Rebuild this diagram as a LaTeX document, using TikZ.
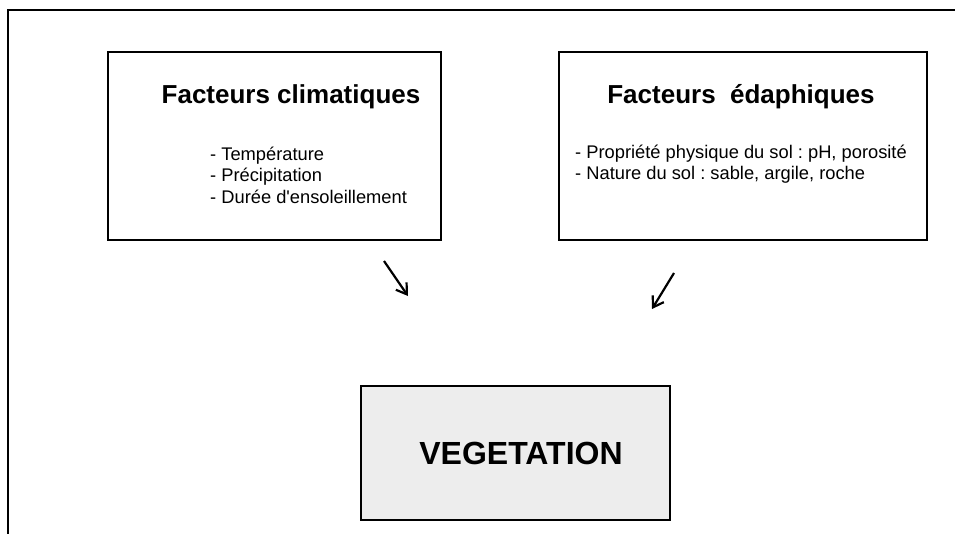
\documentclass[tikz,border=0pt]{standalone}
\usepackage{fontspec}
\setmainfont{Liberation Sans}
\usetikzlibrary{shapes,arrows,arrows.meta}
\definecolor{vegfond}{RGB}{237,237,237}
\frenchspacing

\begin{document}
\begin{tikzpicture}[x=1pt,y=-1pt,
                every path/.style={>={Straight Barb[length=10pt,width=13pt]}},
                box/.style={draw,line width=2.2pt,minimum height=188pt,inner sep=0pt},
                titre/.style={font=\fontsize{26}{31}\selectfont\bfseries,anchor=base,inner sep=0pt},
                liste/.style={font=\fontsize{18.3}{21.5}\selectfont,align=left,anchor=west,inner sep=0pt}]
  \useasboundingbox (0,0) rectangle (955,533);
  % cadre
  \draw[line width=2.2pt] (8,540) -- (8,10) -- (960,10);
  \node[box,minimum width=333pt]  (clim) at (274.5,146) {};
  \node[box,minimum width=368pt]  (edaph) at (743,146) {};
  \node[titre]     (climtitre) at (291,103) {Facteurs climatiques};
  \node[titre]     (edaphtitre) at (741,103) {Facteurs\ \ édaphiques};
  \node[liste]     (climliste) at (210,175) {- Température\\- Précipitation\\- Durée d\textquotesingle ensoleillement};
  \node[liste]     (edaphliste) at (575,164) {- Propriété physique du sol : pH, porosité\\- Nature du sol : sable, argile, roche};
  \node[draw,line width=2.2pt,fill=vegfond,minimum width=309pt,minimum height=134pt,
        font=\fontsize{32}{38}\selectfont\bfseries] (veg) at (515.5,453) {\hspace{11pt}VEGETATION};
  \coordinate (c1) at (384,261);
  \coordinate (c2) at (408,296);
  \coordinate (e1) at (674,273);
  \coordinate (e2) at (652,309);
  \draw[->,line width=2.2pt] (c1) -- (c2);
  \draw[->,line width=2.2pt] (e1) -- (e2);
\end{tikzpicture}
\end{document}
